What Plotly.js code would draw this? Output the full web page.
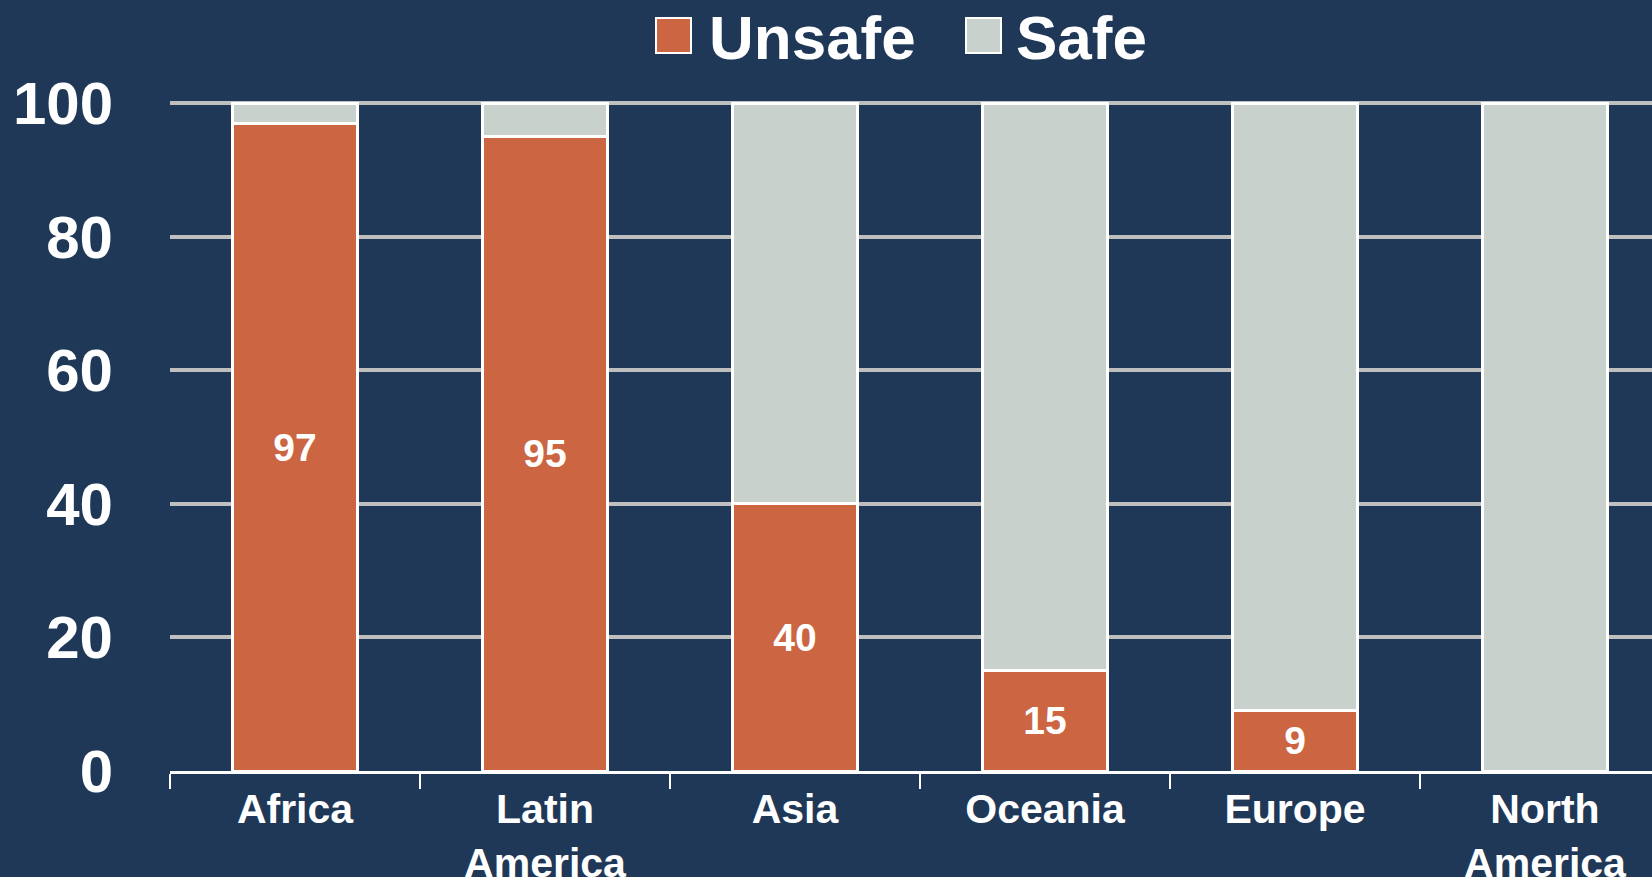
<!DOCTYPE html>
<html>
<head>
<meta charset="utf-8">
<script src="https://cdn.plot.ly/plotly-3.0.1.min.js"></script>
<style>
  html, body { margin: 0; padding: 0; background: #1F3857; }
  #chart { width: 1652px; height: 877px; }
</style>
</head>
<body>
<div id="chart"></div>
<script>
// ---- data ----
const regions = ["Africa", "Latin<br>America", "Asia", "Oceania", "Europe", "North<br>America"];
const unsafe = [97, 95, 40, 15, 9, 0];
const safe = [3, 5, 60, 85, 91, 100];
const seriesNames = ["Unsafe", "Safe"];
const yTicks = [0, 20, 40, 60, 80, 100];

// ---- styling ----
const BG = "#1F3857";
const ORANGE = "#CB6542";
const GREY = "#C8D1CC";
const FONT = "Liberation Sans, Arial, sans-serif";

const W = 1652, H = 877;
const M = { l: 170, r: 0, t: 99, b: 106 };
const plotW = W - M.l - M.r, plotH = H - M.t - M.b;
const catW = 250;
const yMax = 100.6;
function px(x) { return (x - M.l) / plotW; }
function py(y) { return (H - M.b - y) / plotH; }

const traces = [
  {
    type: "bar", name: seriesNames[0], x: regions, y: unsafe,
    marker: { color: ORANGE, line: { color: "#FFFFFF", width: 3 } },
    text: unsafe.map(v => v > 0 ? String(v) : ""),
    textposition: "inside", insidetextanchor: "middle", textangle: 0,
    constraintext: "none",
    textfont: { family: FONT, size: 39, color: "#FFFFFF", weight: "bold" },
    showlegend: false, hoverinfo: "x+y+name"
  },
  {
    type: "bar", name: seriesNames[1], x: regions, y: safe,
    marker: { color: GREY, line: { color: "#FFFFFF", width: 3 } },
    showlegend: false, hoverinfo: "x+y+name"
  }
];

const legendItems = [
  { name: seriesNames[0], color: ORANGE, box: 656, text: 707 },
  { name: seriesNames[1], color: GREY, box: 966, text: 1014 }
];

const shapes = [], annotations = [];
legendItems.forEach(it => {
  shapes.push({
    type: "rect", xref: "paper", yref: "paper",
    x0: px(it.box), x1: px(it.box + 35), y0: py(53), y1: py(18),
    fillcolor: it.color, line: { color: "#FFFFFF", width: 2 }
  });
  annotations.push({
    xref: "paper", yref: "paper", x: px(it.text), y: py(37),
    xanchor: "left", yanchor: "middle", showarrow: false,
    text: it.name,
    font: { family: FONT, size: 62, color: "#FFFFFF", weight: "bold" }
  });
});

const layout = {
  width: W, height: H,
  paper_bgcolor: BG, plot_bgcolor: BG,
  margin: M,
  barmode: "stack",
  bargap: 0.5,
  showlegend: false,
  font: { family: FONT, color: "#FFFFFF" },
  xaxis: {
    type: "category",
    range: [-0.5, -0.5 + plotW / catW],
    showline: true, linecolor: "#FFFFFF", linewidth: 3,
    ticks: "outside", tickson: "boundaries", ticklen: 15, tickwidth: 2, tickcolor: "#FFFFFF",
    showgrid: false, zeroline: false,
    tickfont: { family: FONT, size: 41, color: "#FFFFFF", weight: "bold" },
    fixedrange: true
  },
  yaxis: {
    range: [0, yMax],
    tickvals: yTicks,
    ticktext: yTicks.map(String),
    showgrid: true, gridcolor: "#BFBFBF", gridwidth: 4,
    zeroline: false, showline: false, ticks: "",
    ticklabelstandoff: 56,
    tickfont: { family: FONT, size: 60, color: "#FFFFFF", weight: "bold" },
    fixedrange: true
  },
  shapes: shapes,
  annotations: annotations
};

Plotly.newPlot("chart", traces, layout, { displayModeBar: false, staticPlot: true });
</script>
</body>
</html>
